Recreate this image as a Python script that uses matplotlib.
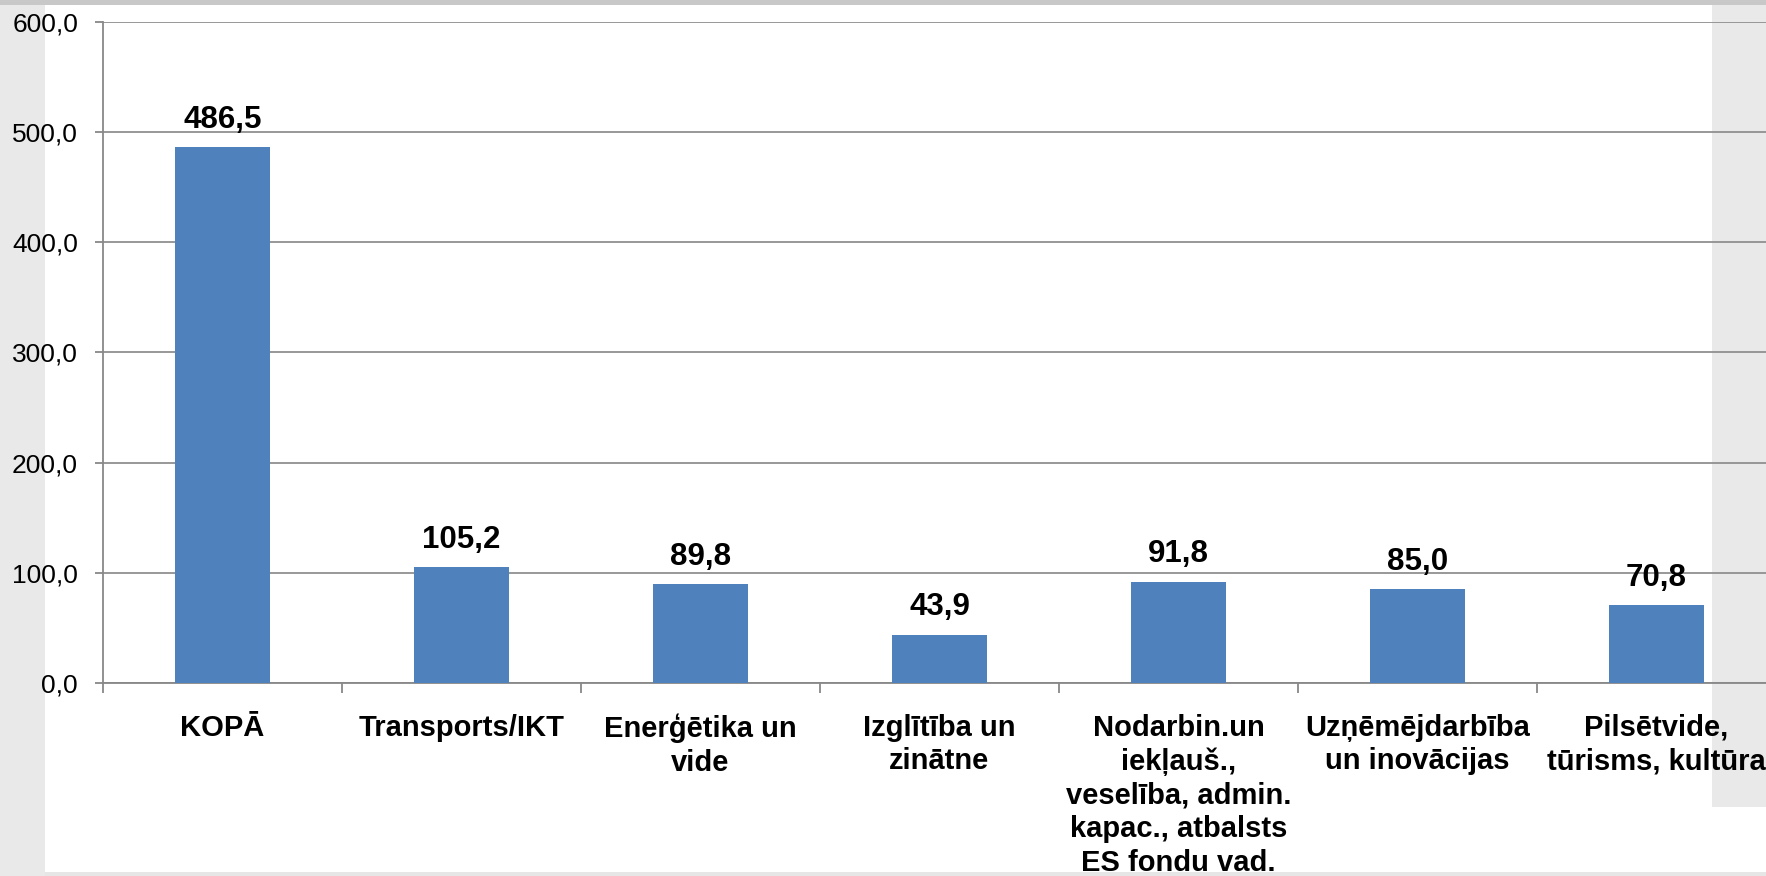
import matplotlib.pyplot as plt
from matplotlib.patches import Rectangle

categories = ["KOPĀ", "Transports/IKT", "Enerģētika un\nvide", "Izglītība un\nzinātne",
              "Nodarbin.un\niekļauš.,\nveselība, admin.\nkapac., atbalsts\nES fondu vad.",
              "Uzņēmējdarbība\nun inovācijas", "Pilsētvide,\ntūrisms, kultūra"]
values = [486.5, 105.2, 89.8, 43.9, 91.8, 85.0, 70.8]
yticks = [0, 100, 200, 300, 400, 500, 600]

plt.rcParams['font.family'] = ['Liberation Sans', 'DejaVu Sans']

W, H = 1766, 876
fig = plt.figure(figsize=(W / 100, H / 100), dpi=100, facecolor="white")

# gray frame pieces around the chart
def px_rect(x0, y0, x1, y1, color):
    fig.patches.append(Rectangle((x0 / W, 1 - y1 / H), (x1 - x0) / W, (y1 - y0) / H,
                                 transform=fig.transFigure, facecolor=color,
                                 edgecolor="none", zorder=0))

px_rect(0, 0, W, 5, "#c8c8c8")
px_rect(0, 5, 45, H, "#e9e9e9")
px_rect(1712, 5, W, 807, "#e9e9e9")
px_rect(45, 872, W, H, "#e6e6e6")

# axes spans beyond the right edge of the picture (last category is cut)
x0, cat_w, y_top, y_zero = 103, 239, 22, 683
ax = fig.add_axes([x0 / W, 1 - y_zero / H, 7 * cat_w / W, (y_zero - y_top) / H])
ax.set_facecolor("none")
ax.set_zorder(1)

pos = list(range(len(categories)))
bars = ax.bar(pos, values, width=0.4, color="#4F81BD", zorder=3)
for b, v in zip(bars, values):
    ax.annotate(f"{v:.1f}".replace(".", ","), (b.get_x() + b.get_width() / 2, v),
                xytext=(0, 9), textcoords="offset points", ha="center", va="bottom",
                fontsize=22.5, fontweight="bold")

ax.set_xlim(-0.5, len(categories) - 0.5)
ax.set_ylim(0, 600)
ax.set_yticks(yticks)
ax.set_yticklabels([f"{t:.1f}".replace(".", ",") for t in yticks], fontsize=19)
ax.yaxis.grid(True, color="#909090", linewidth=1.3, zorder=0)
ax.set_axisbelow(True)

ax.set_xticks([p - 0.5 for p in pos] + [len(categories) - 0.5])
ax.set_xticklabels([])
ax.set_xticks(pos, minor=True)
ax.set_xticklabels(categories, minor=True, fontsize=21, fontweight="bold", linespacing=1.26)
ax.tick_params(axis="x", which="minor", length=0, pad=22)
ax.tick_params(axis="x", which="major", length=7, color="#888888", width=1.3)
ax.tick_params(axis="y", length=6, color="#888888", width=1.3, pad=12)

for s in ["top", "right"]:
    ax.spines[s].set_visible(False)
for s in ["left", "bottom"]:
    ax.spines[s].set_color("#888888")
    ax.spines[s].set_linewidth(1.3)

fig.savefig("out.png", dpi=100, facecolor=fig.get_facecolor())
